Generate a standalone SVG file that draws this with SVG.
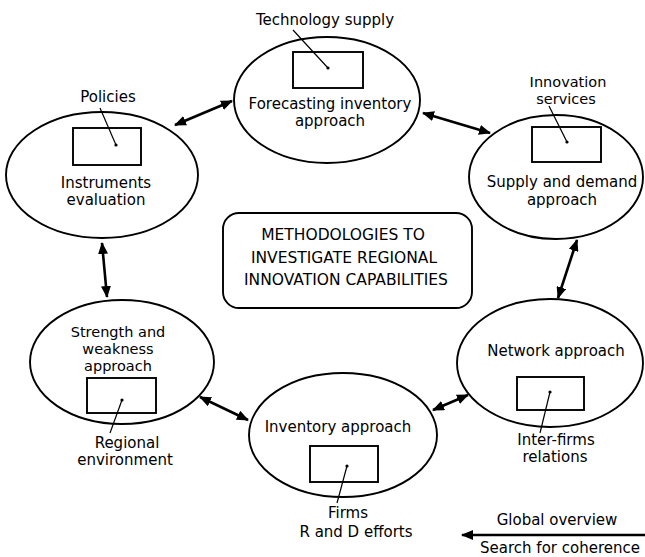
<svg xmlns="http://www.w3.org/2000/svg" width="645" height="557" viewBox="0 0 645 557">
<style>
.el{fill:none;stroke:#000;stroke-width:1.9}
.bx{fill:#fff;stroke:#000;stroke-width:1.9}
.ld{stroke:#000;stroke-width:1.2;fill:none}
.dot{fill:#000}
.ar{stroke:#000;stroke-width:2.6;fill:none;marker-start:url(#ah);marker-end:url(#ah)}
text{font-family:"DejaVu Sans",sans-serif;font-size:15px;fill:#000;text-anchor:middle}
.cap{font-size:15.5px}
.sm{font-size:14.5px}
</style>
<defs>
<marker id="ah" viewBox="0 0 12 10" refX="11" refY="5" markerWidth="12" markerHeight="10" markerUnits="userSpaceOnUse" orient="auto-start-reverse">
<path d="M0,0 L12,5 L0,10 z" fill="#000"/>
</marker>
</defs>
<rect width="645" height="557" fill="#fff"/>
<g id="top">
<ellipse class="el" cx="327" cy="100" rx="93" ry="63"/>
<rect class="bx" x="293" y="52" width="70" height="36"/>
<line class="ld" x1="293" y1="30" x2="328" y2="68"/>
<circle class="dot" cx="328" cy="68" r="1.6"/>
<text x="325" y="25">Technology supply</text>
<text x="330" y="109">Forecasting inventory</text>
<text x="330" y="126">approach</text>
</g>
<g id="left">
<ellipse class="el" cx="102" cy="175" rx="96" ry="63"/>
<rect class="bx" x="73" y="128" width="68" height="37"/>
<line class="ld" x1="100" y1="108" x2="116" y2="145"/>
<circle class="dot" cx="116" cy="145" r="1.6"/>
<text x="108" y="102">Policies</text>
<text x="106" y="188">Instruments</text>
<text x="106" y="205">evaluation</text>
</g>
<g id="right">
<ellipse class="el" cx="556" cy="177" rx="87" ry="62"/>
<rect class="bx" x="532" y="127" width="69" height="35"/>
<line class="ld" x1="549" y1="106" x2="567" y2="142"/>
<circle class="dot" cx="567" cy="142" r="1.6"/>
<text class="sm" x="568" y="87">Innovation</text>
<text class="sm" x="566" y="104">services</text>
<text x="562" y="187">Supply and demand</text>
<text x="562" y="205">approach</text>
</g>
<g id="bottomright">
<ellipse class="el" cx="550" cy="363" rx="93" ry="64"/>
<rect class="bx" x="517" y="377" width="67" height="33"/>
<line class="ld" x1="550" y1="392" x2="540" y2="433"/>
<circle class="dot" cx="550" cy="392" r="1.6"/>
<text x="556" y="356">Network approach</text>
<text x="556" y="445">Inter-firms</text>
<text x="555" y="462">relations</text>
</g>
<g id="bottomcenter">
<ellipse class="el" cx="343" cy="435" rx="94" ry="62"/>
<rect class="bx" x="310" y="446" width="68" height="36"/>
<line class="ld" x1="347" y1="466" x2="337" y2="503"/>
<circle class="dot" cx="347" cy="466" r="1.6"/>
<text x="338" y="432">Inventory approach</text>
<text x="348" y="518">Firms</text>
<text x="356" y="537">R and D efforts</text>
</g>
<g id="bottomleft">
<ellipse class="el" cx="122" cy="362" rx="92" ry="62"/>
<rect class="bx" x="87" y="378" width="69" height="35"/>
<line class="ld" x1="122" y1="400" x2="110" y2="433"/>
<circle class="dot" cx="122" cy="400" r="1.6"/>
<text class="sm" x="118" y="337">Strength and</text>
<text class="sm" x="118" y="354">weakness</text>
<text class="sm" x="118" y="371">approach</text>
<text x="127" y="448">Regional</text>
<text x="125" y="465">environment</text>
</g>
<g id="center">
<rect class="bx" x="223" y="213" width="249" height="95" rx="16"/>
<text class="cap" x="343" y="240">METHODOLOGIES TO</text>
<text class="cap" x="344" y="263">INVESTIGATE REGIONAL</text>
<text class="cap" x="346" y="285">INNOVATION CAPABILITIES</text>
</g>
<g id="connectors">
<line class="ar" x1="175" y1="125" x2="232" y2="101"/>
<line class="ar" x1="423" y1="113" x2="490" y2="133"/>
<line class="ar" x1="577" y1="240" x2="558" y2="298"/>
<line class="ar" x1="468" y1="395" x2="433" y2="410"/>
<line class="ar" x1="248" y1="420" x2="200" y2="397"/>
<line class="ar" x1="107" y1="297" x2="102" y2="243"/>
</g>
<g id="legend">
<line x1="645" y1="535" x2="462" y2="535" stroke="#000" stroke-width="2.4" marker-end="url(#ah)"/>
<text x="557" y="525">Global overview</text>
<text x="560" y="553">Search for coherence</text>
</g>
</svg>
